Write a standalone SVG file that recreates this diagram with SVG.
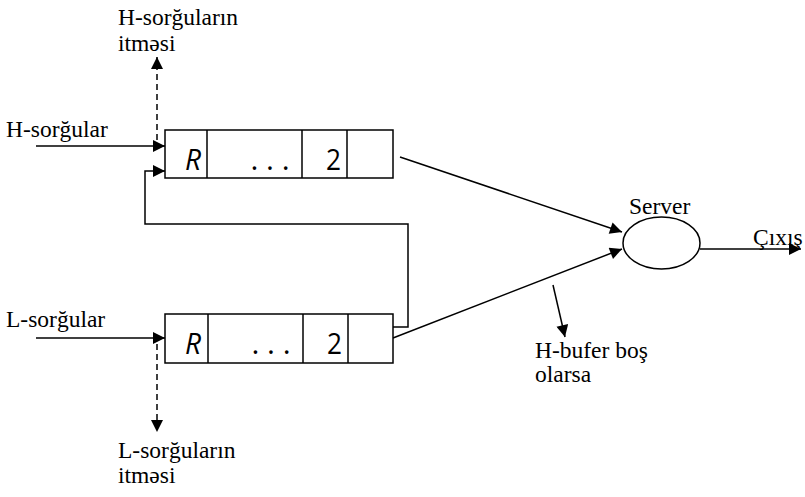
<svg xmlns="http://www.w3.org/2000/svg" width="805" height="497" viewBox="0 0 805 497">
<style>
.t{font-family:"Liberation Serif","DejaVu Serif","Times New Roman",serif;font-size:23.5px;fill:#000}
.s{font-family:"Open Sans","Liberation Sans",Arial,sans-serif;font-size:30px;fill:#000}
.box{fill:#fff;stroke:#000;stroke-width:1.5}
.ln{fill:none;stroke:#000;stroke-width:1.5}
.dash{fill:none;stroke:#000;stroke-width:1.5;stroke-dasharray:6 4}
</style>
<defs>
<marker id="ah" viewBox="0 0 10 10" refX="10" refY="5" markerUnits="userSpaceOnUse" markerWidth="15" markerHeight="12" orient="auto">
<path d="M0,0 L10,5 L0,10 z" fill="#000"/>
</marker>
</defs>
<rect width="805" height="497" fill="#fff"/>
<g id="connectors">
<line class="ln" x1="36" y1="146" x2="165" y2="146" marker-end="url(#ah)"/>
<line class="ln" x1="36" y1="338" x2="165" y2="338" marker-end="url(#ah)"/>
<line class="dash" x1="157" y1="140" x2="157" y2="57" marker-end="url(#ah)"/>
<line class="dash" x1="157" y1="344" x2="157" y2="432" marker-end="url(#ah)"/>
<path class="ln" d="M393,327 H408 V224 H145 V171 H165" marker-end="url(#ah)"/>
<line class="ln" x1="400" y1="157" x2="622" y2="232" marker-end="url(#ah)"/>
<line class="ln" x1="393" y1="338" x2="622" y2="249" marker-end="url(#ah)"/>
<line class="ln" x1="700" y1="249" x2="801" y2="249" marker-end="url(#ah)"/>
<line class="ln" x1="553" y1="285" x2="565" y2="337" marker-end="url(#ah)"/>
</g>
<g id="h-queue">
<rect class="box" x="165" y="130" width="228" height="48"/>
<line class="ln" x1="207" y1="130" x2="207" y2="178"/>
<line class="ln" x1="302" y1="130" x2="302" y2="178"/>
<line class="ln" x1="347" y1="130" x2="347" y2="178"/>
<text class="s" x="185" y="170" font-style="italic" textLength="16" lengthAdjust="spacingAndGlyphs">R</text>
<text class="s" x="270" y="170" text-anchor="middle">. . .</text>
<text class="s" x="326" y="170" textLength="15" lengthAdjust="spacingAndGlyphs">2</text>
</g>
<g id="l-queue">
<rect class="box" x="165" y="314" width="228" height="49"/>
<line class="ln" x1="208" y1="314" x2="208" y2="363"/>
<line class="ln" x1="303" y1="314" x2="303" y2="363"/>
<line class="ln" x1="348" y1="314" x2="348" y2="363"/>
<text class="s" x="185" y="354" font-style="italic" textLength="16" lengthAdjust="spacingAndGlyphs">R</text>
<text class="s" x="271" y="354" text-anchor="middle">. . .</text>
<text class="s" x="327" y="354" textLength="15" lengthAdjust="spacingAndGlyphs">2</text>
</g>
<g id="server">
<ellipse class="box" cx="661.5" cy="243" rx="38.5" ry="26"/>
<text class="t" x="629" y="214">Server</text>
</g>
<g id="labels">
<text class="t" x="118" y="25">H-sorğuların</text>
<text class="t" x="118" y="51">itməsi</text>
<text class="t" x="6" y="137">H-sorğular</text>
<text class="t" x="6" y="327">L-sorğular</text>
<text class="t" x="118" y="458">L-sorğuların</text>
<text class="t" x="118" y="483">itməsi</text>
<text class="t" x="753" y="245">Çıxış</text>
<text class="t" x="535" y="358">H-bufer boş</text>
<text class="t" x="535" y="382">olarsa</text>
</g>
</svg>
